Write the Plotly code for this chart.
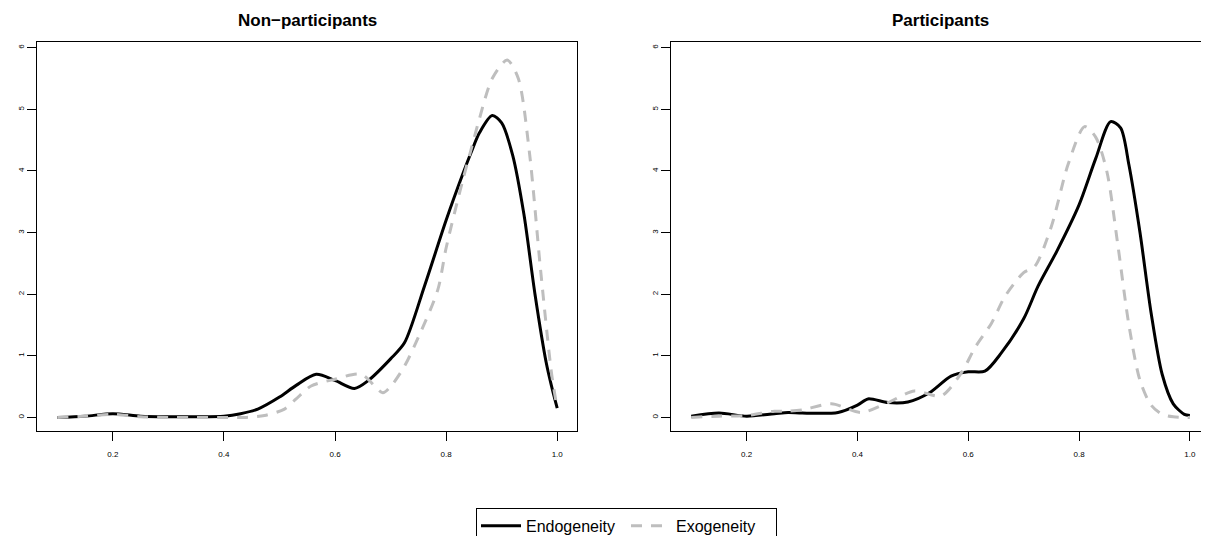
import plotly.graph_objects as go

# ---- data ----
left_endo_x = [0.10, 0.15, 0.20, 0.25, 0.30, 0.35, 0.40, 0.43, 0.461, 0.50, 0.53, 0.566, 0.60, 0.635, 0.66,
               0.70, 0.725, 0.761, 0.80, 0.83, 0.845, 0.86, 0.883, 0.90, 0.92, 0.94, 0.96, 0.98, 0.99, 1.00]
left_endo_y = [0.00, 0.02, 0.06, 0.02, 0.01, 0.01, 0.02, 0.06, 0.135, 0.33, 0.52, 0.70, 0.60, 0.47, 0.60,
               0.95, 1.21, 2.13, 3.20, 3.95, 4.30, 4.62, 4.90, 4.78, 4.25, 3.30, 2.00, 0.90, 0.50, 0.15]

left_exo_x = [0.10, 0.15, 0.20, 0.25, 0.30, 0.35, 0.40, 0.44, 0.473, 0.509, 0.53, 0.557, 0.60, 0.647, 0.686,
              0.70, 0.725, 0.75, 0.785, 0.80, 0.83, 0.845, 0.86, 0.883, 0.91, 0.93, 0.95, 0.97, 0.99, 1.00]
left_exo_y = [0.00, 0.02, 0.05, 0.01, 0.00, 0.00, 0.00, 0.00, 0.03, 0.135, 0.30, 0.51, 0.62, 0.70, 0.40,
              0.50, 0.83, 1.30, 2.07, 2.75, 3.85, 4.35, 4.85, 5.50, 5.80, 5.50, 4.30, 2.40, 0.70, 0.15]

right_endo_x = [0.10, 0.15, 0.20, 0.25, 0.275, 0.30, 0.365, 0.40, 0.419, 0.455, 0.491, 0.53, 0.569, 0.60,
                0.63, 0.66, 0.70, 0.726, 0.76, 0.80, 0.83, 0.857, 0.875, 0.89, 0.91, 0.93, 0.95, 0.97, 0.99, 1.00]
right_endo_y = [0.02, 0.07, 0.02, 0.06, 0.08, 0.07, 0.08, 0.20, 0.30, 0.24, 0.25, 0.40, 0.67, 0.74,
                0.75, 1.05, 1.60, 2.13, 2.70, 3.45, 4.20, 4.80, 4.70, 4.10, 3.00, 1.70, 0.70, 0.22, 0.05, 0.03]

right_exo_x = [0.10, 0.15, 0.20, 0.25, 0.275, 0.30, 0.353, 0.407, 0.455, 0.503, 0.551, 0.588, 0.612, 0.642,
               0.666, 0.70, 0.72, 0.75, 0.78, 0.81, 0.83, 0.85, 0.87, 0.89, 0.91, 0.93, 0.95, 0.97, 1.00]
right_exo_y = [0.00, 0.02, 0.03, 0.10, 0.10, 0.12, 0.22, 0.08, 0.24, 0.43, 0.35, 0.73, 1.13, 1.53,
               1.96, 2.35, 2.45, 3.10, 4.10, 4.72, 4.55, 4.00, 2.80, 1.50, 0.60, 0.20, 0.05, 0.01, 0.00]

panel_titles = ["Non\u2212participants", "Participants"]
series_names = ["Endogeneity", "Exogeneity"]
x_ticks = [0.2, 0.4, 0.6, 0.8, 1.0]
x_ticktext = ["0.2", "0.4", "0.6", "0.8", "1.0"]
y_ticks = [0, 1, 2, 3, 4, 5, 6]

W, H = 1209, 536
BLACK = "#000000"
GREY = "#BEBEBE"
FONT = "Liberation Sans, Arial, Helvetica, sans-serif"

fig = go.Figure()

panels = [
    (left_endo_x, left_endo_y, left_exo_x, left_exo_y, "x", "y"),
    (right_endo_x, right_endo_y, right_exo_x, right_exo_y, "x2", "y2"),
]
for i, (ex, ey, gx, gy, xa, ya) in enumerate(panels):
    fig.add_trace(go.Scatter(x=ex, y=ey, mode="lines", name=series_names[0],
                             line=dict(color=BLACK, width=3, shape="spline", smoothing=0.8),
                             xaxis=xa, yaxis=ya, showlegend=(i == 0), legendgroup="endo"))
    fig.add_trace(go.Scatter(x=gx, y=gy, mode="lines", name=series_names[1],
                             line=dict(color=GREY, width=3, shape="spline", smoothing=0.8,
                                       dash="11px,9px"),
                             xaxis=xa, yaxis=ya, showlegend=(i == 0), legendgroup="exo"))

x_dom = [[29.3 / W, 569.2 / W], [663.3 / W, 1201.8 / W]]
y_dom = [(H - 425.7) / H, (H - 34.3) / H]

axis_common = dict(showline=True, linecolor="black", linewidth=1, mirror=True,
                   showgrid=False, zeroline=False, ticks="outside", ticklen=9,
                   tickcolor="black", tickwidth=1)

for i in range(2):
    sfx = "" if i == 0 else str(i + 1)
    fig.layout["xaxis" + sfx] = dict(domain=x_dom[i], range=[0.064, 1.036], anchor="y" + sfx,
                                     tickvals=x_ticks, ticktext=x_ticktext,
                                     ticklabelstandoff=6,
                                     tickfont=dict(family=FONT, size=8, color="black"),
                                     **axis_common)
    fig.layout["yaxis" + sfx] = dict(domain=y_dom, range=[-0.226, 6.092], anchor="x" + sfx,
                                     tickvals=y_ticks, tickangle=-90,
                                     tickfont=dict(family=FONT, size=8, color="black"),
                                     **axis_common)
    fig.add_annotation(text="<b>" + panel_titles[i] + "</b>", xref="paper", yref="paper",
                       x=(x_dom[i][0] + x_dom[i][1]) / 2, y=1 - 13 / H, xanchor="center",
                       yanchor="middle", showarrow=False,
                       font=dict(family=FONT, size=17, color="black"))

fig.update_layout(
    width=W, height=H,
    margin=dict(l=0, r=0, t=0, b=0),
    paper_bgcolor="white", plot_bgcolor="white",
    showlegend=True,
    legend=dict(orientation="h", x=468 / W, y=(H - 502.7) / H, xanchor="left", yanchor="top",
                bordercolor="black", borderwidth=1, bgcolor="white",
                font=dict(family=FONT, size=16, color="black"),
                entrywidth=95, itemwidth=40, tracegroupgap=0),
)

fig.write_html("out.html")
